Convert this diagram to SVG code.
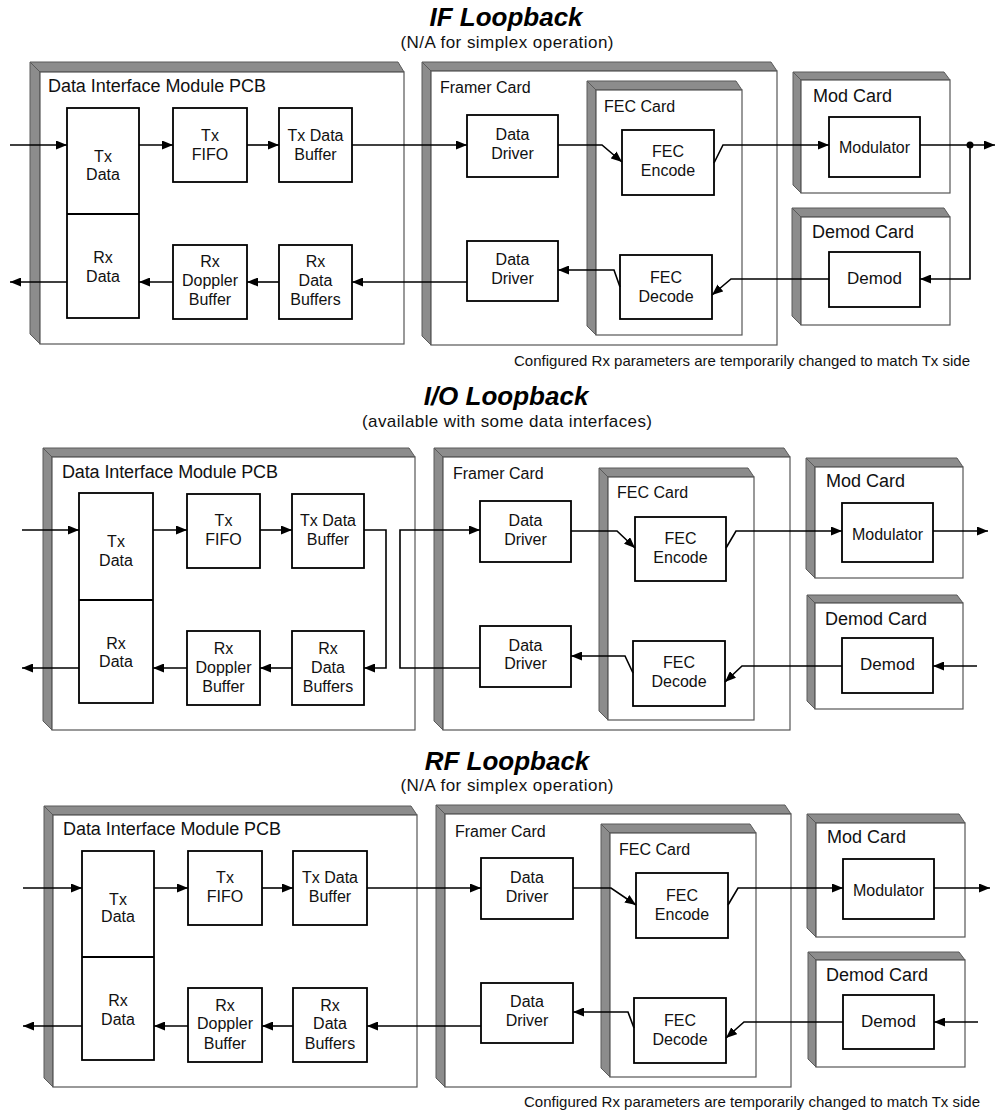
<svg xmlns="http://www.w3.org/2000/svg" width="995" height="1111" viewBox="0 0 995 1111">
<defs>
<marker id="ah" markerUnits="userSpaceOnUse" markerWidth="11" markerHeight="9" refX="11" refY="4.5" orient="auto">
<path d="M0,0 L11,4.5 L0,9 z" fill="#000"/>
</marker>
<style>
.shade{fill:#8c8c8c;stroke:#5a5a5a;stroke-width:1;stroke-linejoin:round}
.face{fill:#fff;stroke:#555;stroke-width:1.2}
.box{fill:#fff;stroke:#000;stroke-width:1.8}
.div{stroke:#000;stroke-width:1.8}
.t{font-family:"Liberation Sans",Arial,sans-serif;font-size:16px;fill:#111;text-anchor:middle}
.cl{font-family:"Liberation Sans",Arial,sans-serif;font-size:16px;fill:#111}
.cl18{font-family:"Liberation Sans",Arial,sans-serif;font-size:18px;fill:#111}
.title{font-family:"Liberation Sans",Arial,sans-serif;font-size:26px;font-weight:bold;font-style:italic;fill:#000;text-anchor:middle}
.sub{font-family:"Liberation Sans",Arial,sans-serif;font-size:17px;fill:#111;text-anchor:middle}
.note{font-family:"Liberation Sans",Arial,sans-serif;font-size:15px;fill:#111}
.c{fill:none;stroke:#000;stroke-width:1.6;marker-end:url(#ah)}
.cn{fill:none;stroke:#000;stroke-width:1.6}
</style>
</defs>
<rect width="995" height="1111" fill="#fff"/>

<!-- ================= IF LOOPBACK ================= -->
<g id="title-if">
<text class="title" x="506" y="26">IF Loopback</text>
<text class="sub" x="507" y="48" textLength="213">(N/A for simplex operation)</text>
</g>

<g id="if-dim">
<polygon class="shade" points="30,62 398,62 404,72 40,72"/>
<polygon class="shade" points="30,62 40,72 40,344 30,334"/>
<rect class="face" x="40" y="72" width="364" height="272"/>
<text class="cl18" x="48" y="92" textLength="218">Data Interface Module PCB</text>
</g>
<g id="if-txrxdata">
<rect class="box" x="67" y="108" width="72" height="210"/>
<line class="div" x1="67" y1="214" x2="139" y2="214"/>
<text class="t" x="103" y="161.5">Tx</text><text class="t" x="103" y="180">Data</text>
<text class="t" x="103" y="263">Rx</text><text class="t" x="103" y="282">Data</text>
</g>
<g id="if-txfifo"><rect class="box" x="173" y="108" width="74" height="74"/>
<text class="t" x="210" y="141">Tx</text><text class="t" x="210" y="160">FIFO</text></g>
<g id="if-txbuf"><rect class="box" x="279" y="108" width="73" height="74"/>
<text class="t" x="315.5" y="141">Tx Data</text><text class="t" x="315.5" y="160">Buffer</text></g>
<g id="if-rxdop"><rect class="box" x="173" y="245" width="74" height="74"/>
<text class="t" x="210" y="267">Rx</text><text class="t" x="210" y="286">Doppler</text><text class="t" x="210" y="305">Buffer</text></g>
<g id="if-rxbuf"><rect class="box" x="279" y="245" width="73" height="74"/>
<text class="t" x="315.5" y="267">Rx</text><text class="t" x="315.5" y="286">Data</text><text class="t" x="315.5" y="305">Buffers</text></g>

<g id="if-framer">
<polygon class="shade" points="422,62 771,62 777,71 431,71"/>
<polygon class="shade" points="422,62 431,71 431,345 422,336"/>
<rect class="face" x="431" y="71" width="346" height="274"/>
<text class="cl" x="440" y="93">Framer Card</text>
</g>
<g id="if-dd1"><rect class="box" x="467" y="115" width="91" height="62"/>
<text class="t" x="512.5" y="140">Data</text><text class="t" x="512.5" y="159">Driver</text></g>
<g id="if-dd2"><rect class="box" x="467" y="241" width="91" height="60"/>
<text class="t" x="512.5" y="264.5">Data</text><text class="t" x="512.5" y="283.5">Driver</text></g>
<g id="if-fec">
<polygon class="shade" points="587,81 736,81 742,90 596,90"/>
<polygon class="shade" points="587,81 596,90 596,335 587,326"/>
<rect class="face" x="596" y="90" width="146" height="245"/>
<text class="cl" x="604" y="112">FEC Card</text>
</g>
<g id="if-fecenc"><rect class="box" x="622" y="130" width="92" height="65"/>
<text class="t" x="668" y="157">FEC</text><text class="t" x="668" y="176">Encode</text></g>
<g id="if-fecdec"><rect class="box" x="620" y="255" width="92" height="64"/>
<text class="t" x="666" y="282.5">FEC</text><text class="t" x="666" y="301.5">Decode</text></g>
<g id="if-mod">
<polygon class="shade" points="793,72 944,72 950,80 801,80"/>
<polygon class="shade" points="793,72 801,80 801,193 793,185"/>
<rect class="face" x="801" y="80" width="149" height="113"/>
<text class="cl18" x="813" y="101.5">Mod Card</text>
</g>
<g id="if-modulator"><rect class="box" x="829" y="117" width="91" height="60"/>
<text class="t" x="874.5" y="153">Modulator</text></g>
<g id="if-demodcard">
<polygon class="shade" points="792,208 944,208 950,217 801,217"/>
<polygon class="shade" points="792,208 801,217 801,325 792,316"/>
<rect class="face" x="801" y="217" width="149" height="108"/>
<text class="cl18" x="812" y="238">Demod Card</text>
</g>
<g id="if-demod"><rect class="box" x="829" y="252" width="91" height="55"/>
<text class="t" x="874.5" y="284" style="font-size:17px">Demod</text></g>
<text class="note" x="514" y="366" textLength="456">Configured Rx parameters are temporarily changed to match Tx side</text>

<!-- ================= I/O LOOPBACK ================= -->
<g id="title-io">
<text class="title" x="506" y="404.5">I/O Loopback</text>
<text class="sub" x="507" y="426.5" textLength="290">(available with some data interfaces)</text>
</g>

<g id="io-dim">
<polygon class="shade" points="43,448 409,448 415,457 52,457"/>
<polygon class="shade" points="43,448 52,457 52,730 43,721"/>
<rect class="face" x="52" y="457" width="363" height="273"/>
<text class="cl18" x="62" y="478" textLength="216">Data Interface Module PCB</text>
</g>
<g id="io-txrxdata">
<rect class="box" x="79" y="493" width="74" height="210"/>
<line class="div" x1="79" y1="600" x2="153" y2="600"/>
<text class="t" x="116" y="547">Tx</text><text class="t" x="116" y="565.5">Data</text>
<text class="t" x="116" y="648.5">Rx</text><text class="t" x="116" y="667">Data</text>
</g>
<g id="io-txfifo"><rect class="box" x="187" y="494" width="73" height="74"/>
<text class="t" x="223.5" y="525.5">Tx</text><text class="t" x="223.5" y="544.5">FIFO</text></g>
<g id="io-txbuf"><rect class="box" x="292" y="494" width="72" height="74"/>
<text class="t" x="328" y="525.5">Tx Data</text><text class="t" x="328" y="544.5">Buffer</text></g>
<g id="io-rxdop"><rect class="box" x="187" y="631" width="73" height="74"/>
<text class="t" x="223.5" y="654">Rx</text><text class="t" x="223.5" y="673">Doppler</text><text class="t" x="223.5" y="692">Buffer</text></g>
<g id="io-rxbuf"><rect class="box" x="292" y="631" width="72" height="74"/>
<text class="t" x="328" y="654">Rx</text><text class="t" x="328" y="673">Data</text><text class="t" x="328" y="692">Buffers</text></g>

<g id="io-framer">
<polygon class="shade" points="434,448 784,448 790,457 443,457"/>
<polygon class="shade" points="434,448 443,457 443,730 434,721"/>
<rect class="face" x="443" y="457" width="347" height="273"/>
<text class="cl" x="453" y="479">Framer Card</text>
</g>
<g id="io-dd1"><rect class="box" x="480" y="501" width="91" height="61"/>
<text class="t" x="525.5" y="525.5">Data</text><text class="t" x="525.5" y="544.5">Driver</text></g>
<g id="io-dd2"><rect class="box" x="480" y="626" width="91" height="61"/>
<text class="t" x="525.5" y="650.5">Data</text><text class="t" x="525.5" y="669">Driver</text></g>
<g id="io-fec">
<polygon class="shade" points="599,468 748,468 754,477 608,477"/>
<polygon class="shade" points="599,468 608,477 608,720 599,711"/>
<rect class="face" x="608" y="477" width="146" height="243"/>
<text class="cl" x="617" y="497.5">FEC Card</text>
</g>
<g id="io-fecenc"><rect class="box" x="635" y="517" width="91" height="64"/>
<text class="t" x="680.5" y="544">FEC</text><text class="t" x="680.5" y="563">Encode</text></g>
<g id="io-fecdec"><rect class="box" x="633" y="641" width="92" height="65"/>
<text class="t" x="679" y="668">FEC</text><text class="t" x="679" y="687">Decode</text></g>
<g id="io-mod">
<polygon class="shade" points="806,458 957,458 963,467 815,467"/>
<polygon class="shade" points="806,458 815,467 815,578 806,569"/>
<rect class="face" x="815" y="467" width="148" height="111"/>
<text class="cl18" x="826" y="486.5">Mod Card</text>
</g>
<g id="io-modulator"><rect class="box" x="842" y="503" width="91" height="59"/>
<text class="t" x="887.5" y="539.5">Modulator</text></g>
<g id="io-demodcard">
<polygon class="shade" points="807,595 957,595 963,603 815,603"/>
<polygon class="shade" points="807,595 815,603 815,709 807,701"/>
<rect class="face" x="815" y="603" width="148" height="106"/>
<text class="cl18" x="825" y="625">Demod Card</text>
</g>
<g id="io-demod"><rect class="box" x="842" y="638" width="91" height="55"/>
<text class="t" x="887.5" y="670" style="font-size:17px">Demod</text></g>

<!-- ================= RF LOOPBACK ================= -->
<g id="title-rf">
<text class="title" x="507" y="769.5">RF Loopback</text>
<text class="sub" x="507" y="791" textLength="213">(N/A for simplex operation)</text>
</g>

<g id="rf-dim">
<polygon class="shade" points="44,806 411,806 417,815 53,815"/>
<polygon class="shade" points="44,806 53,815 53,1087 44,1078"/>
<rect class="face" x="53" y="815" width="364" height="272"/>
<text class="cl18" x="63" y="834.5" textLength="218">Data Interface Module PCB</text>
</g>
<g id="rf-txrxdata">
<rect class="box" x="82" y="851" width="72" height="209"/>
<line class="div" x1="82" y1="957" x2="154" y2="957"/>
<text class="t" x="118" y="904.5">Tx</text><text class="t" x="118" y="922">Data</text>
<text class="t" x="118" y="1006">Rx</text><text class="t" x="118" y="1024.5">Data</text>
</g>
<g id="rf-txfifo"><rect class="box" x="188" y="851" width="74" height="74"/>
<text class="t" x="225" y="883">Tx</text><text class="t" x="225" y="901.5">FIFO</text></g>
<g id="rf-txbuf"><rect class="box" x="293" y="851" width="74" height="74"/>
<text class="t" x="330" y="883">Tx Data</text><text class="t" x="330" y="901.5">Buffer</text></g>
<g id="rf-rxdop"><rect class="box" x="188" y="988" width="74" height="74"/>
<text class="t" x="225" y="1010.5">Rx</text><text class="t" x="225" y="1029">Doppler</text><text class="t" x="225" y="1048.5">Buffer</text></g>
<g id="rf-rxbuf"><rect class="box" x="293" y="988" width="74" height="74"/>
<text class="t" x="330" y="1010.5">Rx</text><text class="t" x="330" y="1029">Data</text><text class="t" x="330" y="1048.5">Buffers</text></g>

<g id="rf-framer">
<polygon class="shade" points="436,805 785,805 791,814 445,814"/>
<polygon class="shade" points="436,805 445,814 445,1087 436,1078"/>
<rect class="face" x="445" y="814" width="346" height="273"/>
<text class="cl" x="455" y="836.5">Framer Card</text>
</g>
<g id="rf-dd1"><rect class="box" x="481" y="858" width="92" height="61"/>
<text class="t" x="527" y="883">Data</text><text class="t" x="527" y="902">Driver</text></g>
<g id="rf-dd2"><rect class="box" x="481" y="983" width="92" height="60"/>
<text class="t" x="527" y="1007">Data</text><text class="t" x="527" y="1026">Driver</text></g>
<g id="rf-fec">
<polygon class="shade" points="601,824 750,824 756,833 610,833"/>
<polygon class="shade" points="601,824 610,833 610,1077 601,1068"/>
<rect class="face" x="610" y="833" width="146" height="244"/>
<text class="cl" x="619" y="855">FEC Card</text>
</g>
<g id="rf-fecenc"><rect class="box" x="636" y="873" width="92" height="65"/>
<text class="t" x="682" y="900.5">FEC</text><text class="t" x="682" y="920">Encode</text></g>
<g id="rf-fecdec"><rect class="box" x="634" y="998" width="92" height="65"/>
<text class="t" x="680" y="1025.5">FEC</text><text class="t" x="680" y="1045">Decode</text></g>
<g id="rf-mod">
<polygon class="shade" points="807,814 959,814 965,823 816,823"/>
<polygon class="shade" points="807,814 816,823 816,937 807,928"/>
<rect class="face" x="816" y="823" width="149" height="114"/>
<text class="cl18" x="827" y="843">Mod Card</text>
</g>
<g id="rf-modulator"><rect class="box" x="843" y="859" width="91" height="60"/>
<text class="t" x="888.5" y="896">Modulator</text></g>
<g id="rf-demodcard">
<polygon class="shade" points="808,952 959,952 965,960 816,960"/>
<polygon class="shade" points="808,952 816,960 816,1067 808,1059"/>
<rect class="face" x="816" y="960" width="149" height="107"/>
<text class="cl18" x="826" y="981">Demod Card</text>
</g>
<g id="rf-demod"><rect class="box" x="843" y="995" width="91" height="54"/>
<text class="t" x="888.5" y="1026.5" style="font-size:17px">Demod</text></g>
<text class="note" x="524" y="1107" textLength="456">Configured Rx parameters are temporarily changed to match Tx side</text>

<!-- ================= CONNECTORS ================= -->
<g id="connectors">
<!-- IF -->
<path class="c" d="M10,145 H67"/>
<path class="c" d="M139,145 H173"/>
<path class="c" d="M247,145 H279"/>
<path class="c" d="M352,145 H467"/>
<path class="c" d="M558,145 H602 L622,162"/>
<path class="c" d="M714,163 L723,145 H829"/>
<path class="c" d="M920,145 H995"/>
<circle cx="970" cy="145" r="3.5" fill="#000"/>
<path class="c" d="M970,145 V279 H920"/>
<path class="c" d="M829,279 H731 L712,295"/>
<path class="c" d="M620,287 L614,270 H558"/>
<path class="c" d="M467,282 H352"/>
<path class="c" d="M279,282 H247"/>
<path class="c" d="M173,282 H139"/>
<path class="c" d="M67,282 H10"/>
<!-- I/O -->
<path class="c" d="M22,530 H79"/>
<path class="c" d="M153,530 H187"/>
<path class="c" d="M260,530 H292"/>
<path class="c" d="M364,530 H386 V668 H364"/>
<path class="c" d="M292,668 H260"/>
<path class="c" d="M187,668 H153"/>
<path class="c" d="M79,668 H22"/>
<path class="c" d="M480,668 H400 V530 H480"/>
<path class="c" d="M571,531 H617 L635,548"/>
<path class="c" d="M726,548 L736,531 H842"/>
<path class="c" d="M933,531 H988"/>
<path class="c" d="M977,666 H933"/>
<path class="c" d="M842,666 H742 L725,682"/>
<path class="c" d="M633,673 L625,656 H571"/>
<!-- RF -->
<path class="c" d="M23,888 H82"/>
<path class="c" d="M154,888 H188"/>
<path class="c" d="M262,888 H293"/>
<path class="c" d="M367,888 H481"/>
<path class="c" d="M573,888 H611 L636,905"/>
<path class="c" d="M728,905 L738,888 H843"/>
<path class="c" d="M934,888 H990"/>
<path class="c" d="M978,1022 H934"/>
<path class="c" d="M843,1022 H744 L726,1038"/>
<path class="c" d="M634,1028 L628,1012 H573"/>
<path class="c" d="M481,1026 H367"/>
<path class="c" d="M293,1026 H262"/>
<path class="c" d="M188,1026 H154"/>
<path class="c" d="M82,1026 H23"/>
</g>
</svg>
